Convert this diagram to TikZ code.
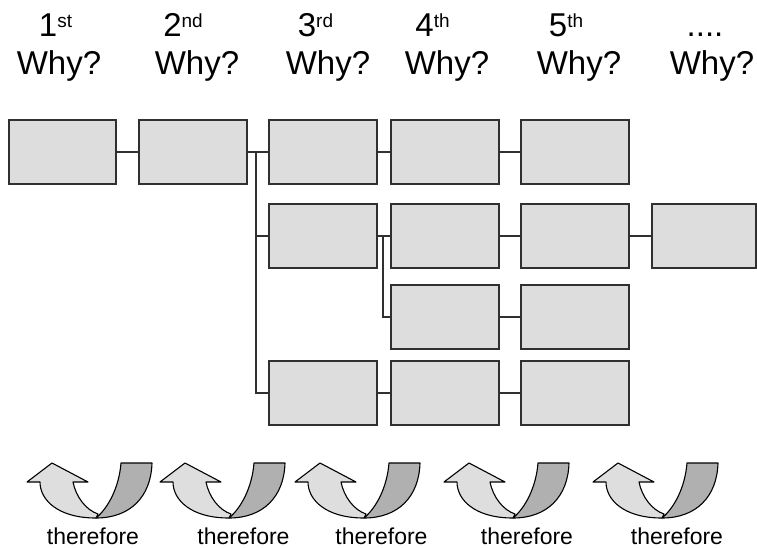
\documentclass[tikz,border=0pt]{standalone}
\usepackage{fontspec}
\setmainfont{Liberation Sans}
\definecolor{boxfill}{HTML}{DDDDDD}
\definecolor{boxline}{HTML}{303030}
\definecolor{arrlight}{HTML}{DEDEDE}
\definecolor{arrdark}{HTML}{B0B0B0}
\newcommand\ordn[2]{#1\raisebox{9pt}{\fontsize{19}{19}\selectfont #2}}
\tikzset{
  whybox/.style={draw=boxline, fill=boxfill, line width=1.5pt, minimum width=108pt, minimum height=64pt, inner sep=0pt, outer sep=0pt},
  link/.style={draw=boxline, line width=1.5pt},
  headtxt/.style={font=\fontsize{33}{33}\selectfont, inner sep=0pt, anchor=base},
  thtxt/.style={font=\fontsize{23}{23}\selectfont, inner sep=0pt, anchor=base},
  uarrow/.pic={
    \path[draw=black, line width=1.1pt, fill=arrdark, line join=round]
      (121,463) -- (152,463) .. controls (151,497) and (130,518) .. (96,518)
      .. controls (108,508) and (119,488) .. cycle;
    \path[draw=black, line width=1.1pt, fill=arrlight, line join=round]
      (96,518) .. controls (58,518) and (40,500) .. (40,482) -- (27,482) -- (52,463)
      -- (88,482) -- (73,482) .. controls (76,497) and (86,510) .. (98,514) -- cycle;
  }
}
\begin{document}
\begin{tikzpicture}[x=1pt,y=-1pt]
\useasboundingbox (0,0) rectangle (757,548);
% headers
\node[headtxt] (o1) at (55.5,37) {\ordn{1}{st}};
\node[headtxt] (o2) at (183,37) {\ordn{2}{nd}};
\node[headtxt] (o3) at (315.5,37) {\ordn{3}{rd}};
\node[headtxt] (o4) at (432.5,37) {\ordn{4}{th}};
\node[headtxt] (o5) at (566,37) {\ordn{5}{th}};
\node[headtxt] (o6) at (705,37) {....};
\node[headtxt] (w1) at (59,75) {Why?};
\node[headtxt] (w2) at (197,75) {Why?};
\node[headtxt] (w3) at (328,75) {Why?};
\node[headtxt] (w4) at (447,75) {Why?};
\node[headtxt] (w5) at (579,75) {Why?};
\node[headtxt] (w6) at (712,75) {Why?};
% boxes
\node[whybox, minimum width=107pt] (a1) at (62.5,152) {};
\node[whybox] (a2) at (193,152) {};
\node[whybox] (a3) at (323,152) {};
\node[whybox] (a4) at (445,152) {};
\node[whybox] (a5) at (575,152) {};
\node[whybox] (b3) at (323,236) {};
\node[whybox] (b4) at (445,236) {};
\node[whybox] (b5) at (575,236) {};
\node[whybox, minimum width=104pt] (b6) at (704,236) {};
\node[whybox] (c4) at (445,317) {};
\node[whybox] (c5) at (575,317) {};
\node[whybox] (d3) at (323,393) {};
\node[whybox] (d4) at (445,393) {};
\node[whybox] (d5) at (575,393) {};
\coordinate (busA) at (256,0);
\coordinate (busB) at (383,0);
% connectors
\draw[link] (a1) -- (a2);
\draw[link] (a2) -- (a3);
\draw[link] (a3) -- (a4);
\draw[link] (a4) -- (a5);
\draw[link] (a2.east -| busA) |- (d3.west);
\draw[link] (b3.west -| busA) -- (b3.west);
\draw[link] (b3) -- (b4);
\draw[link] (b4) -- (b5);
\draw[link] (b5) -- (b6);
\draw[link] (b4.west -| busB) |- (c4.west);
\draw[link] (c4) -- (c5);
\draw[link] (d3) -- (d4);
\draw[link] (d4) -- (d5);
% arrows
\pic at (0,0) {uarrow};
\pic at (133,0) {uarrow};
\pic at (268,0) {uarrow};
\pic at (417,0) {uarrow};
\pic at (566,0) {uarrow};
\node[thtxt] (t1) at (93,544) {therefore};
\node[thtxt] (t2) at (243.5,544) {therefore};
\node[thtxt] (t3) at (381.5,544) {therefore};
\node[thtxt] (t4) at (527,544) {therefore};
\node[thtxt] (t5) at (677,544) {therefore};
\end{tikzpicture}
\end{document}
